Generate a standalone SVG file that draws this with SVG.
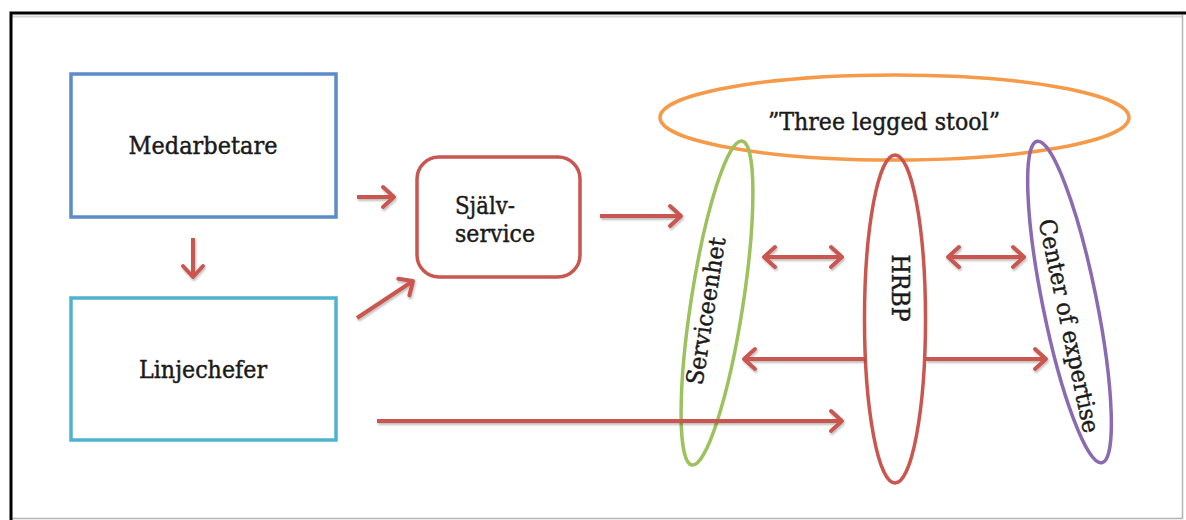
<svg xmlns="http://www.w3.org/2000/svg" width="1186" height="520" viewBox="0 0 1186 520">
  <style>
    .txt { font-family: "DejaVu Serif", "Liberation Serif", serif; fill: #1a1a1a; stroke: #1a1a1a; stroke-width: 0.45; }
    .conn { stroke: #C9564F; stroke-width: 4; fill: none; }
    .box { fill: none; stroke-width: 3.5; }
    .ell { fill: none; stroke-width: 3.5; }
  </style>
  <defs>
    <marker id="ah" markerUnits="userSpaceOnUse" markerWidth="30" markerHeight="30" viewBox="-15 -15 30 30" refX="0" refY="0" orient="auto-start-reverse">
      <path d="M -11 -10 L 0 0 L -11 10" fill="none" stroke="#C9564F" stroke-width="4" stroke-linecap="round" stroke-linejoin="round"/>
    </marker>
    <filter id="sh" x="-10%" y="-50%" width="120%" height="200%">
      <feDropShadow dx="1" dy="2" stdDeviation="1.2" flood-color="#000" flood-opacity="0.25"/>
    </filter>
  </defs>

  <rect x="0" y="0" width="1186" height="520" fill="#fff"/>
  <g id="frame">
    <line x1="12" y1="16.5" x2="1183" y2="16.5" stroke="#d4d4d4" stroke-width="2"/>
    <path d="M12 518.5 H1182.5 V15" stroke="#b4b4b4" stroke-width="1.5" fill="none"/>
    <path d="M11 520 V13 H1186" stroke="#000" stroke-width="3" fill="none"/>
  </g>

  <g id="medarbetare">
    <rect class="box" x="71" y="74" width="265" height="143" stroke="#5B8CC8"/>
    <text class="txt" x="203" y="154" font-size="23.5" text-anchor="middle" textLength="149" lengthAdjust="spacingAndGlyphs">Medarbetare</text>
  </g>

  <g id="linjechefer">
    <rect class="box" x="71" y="298" width="265" height="142" stroke="#4DB3CF"/>
    <text class="txt" x="203" y="378" font-size="23.5" text-anchor="middle" textLength="128" lengthAdjust="spacingAndGlyphs">Linjechefer</text>
  </g>

  <g id="sjalvservice">
    <rect class="box" x="417" y="157" width="163" height="120" rx="22" stroke="#C9564F"/>
    <text class="txt" x="455" y="214" font-size="24" textLength="60" lengthAdjust="spacingAndGlyphs">Själv-</text>
    <text class="txt" x="455" y="242" font-size="24" textLength="80" lengthAdjust="spacingAndGlyphs">service</text>
  </g>

  <g id="three-legged-stool">
    <ellipse class="ell" cx="894.5" cy="117.5" rx="234.5" ry="42.5" stroke="#F59A48"/>
    <text class="txt" x="884" y="130" font-size="24" text-anchor="middle" textLength="232" lengthAdjust="spacingAndGlyphs">”Three legged stool”</text>
  </g>

  <g id="serviceenhet">
    <ellipse class="ell" cx="0" cy="0" rx="26" ry="164" stroke="#9DC15C" transform="translate(717,303) rotate(8.8)"/>
    <text class="txt" x="0" y="8" font-size="23.5" text-anchor="middle" textLength="149" lengthAdjust="spacingAndGlyphs" transform="translate(706,311) rotate(-81)">Serviceenhet</text>
  </g>

  <g id="hrbp">
    <ellipse class="ell" cx="895" cy="319" rx="30.5" ry="164" stroke="#C9564F"/>
    <text class="txt" x="0" y="8.4" font-size="23.5" text-anchor="middle" textLength="67" lengthAdjust="spacingAndGlyphs" transform="translate(900,288) rotate(90)">HRBP</text>
  </g>

  <g id="center-of-expertise">
    <ellipse class="ell" cx="0" cy="0" rx="27" ry="164" stroke="#8A6BB0" transform="translate(1069.5,302) rotate(-11.4)"/>
    <text class="txt" x="0" y="8" font-size="23.5" text-anchor="middle" textLength="218" lengthAdjust="spacingAndGlyphs" transform="translate(1069,326) rotate(78)">Center of expertise</text>
  </g>

  <g id="connectors" filter="url(#sh)">
    <line class="conn" x1="193" y1="238" x2="193" y2="277" marker-end="url(#ah)"/>
    <line class="conn" x1="357" y1="197" x2="394" y2="197" marker-end="url(#ah)"/>
    <line class="conn" x1="357" y1="318" x2="413" y2="281" marker-end="url(#ah)"/>
    <line class="conn" x1="600" y1="216" x2="681" y2="216" marker-end="url(#ah)"/>
    <line class="conn" x1="764" y1="257" x2="842" y2="257" marker-start="url(#ah)" marker-end="url(#ah)"/>
    <line class="conn" x1="948" y1="257" x2="1024" y2="257" marker-start="url(#ah)" marker-end="url(#ah)"/>
    <line class="conn" x1="864" y1="359" x2="744" y2="359" marker-end="url(#ah)"/>
    <line class="conn" x1="926" y1="359" x2="1046" y2="359" marker-end="url(#ah)"/>
    <line class="conn" x1="377" y1="421" x2="842" y2="421" marker-end="url(#ah)"/>
  </g>
</svg>
